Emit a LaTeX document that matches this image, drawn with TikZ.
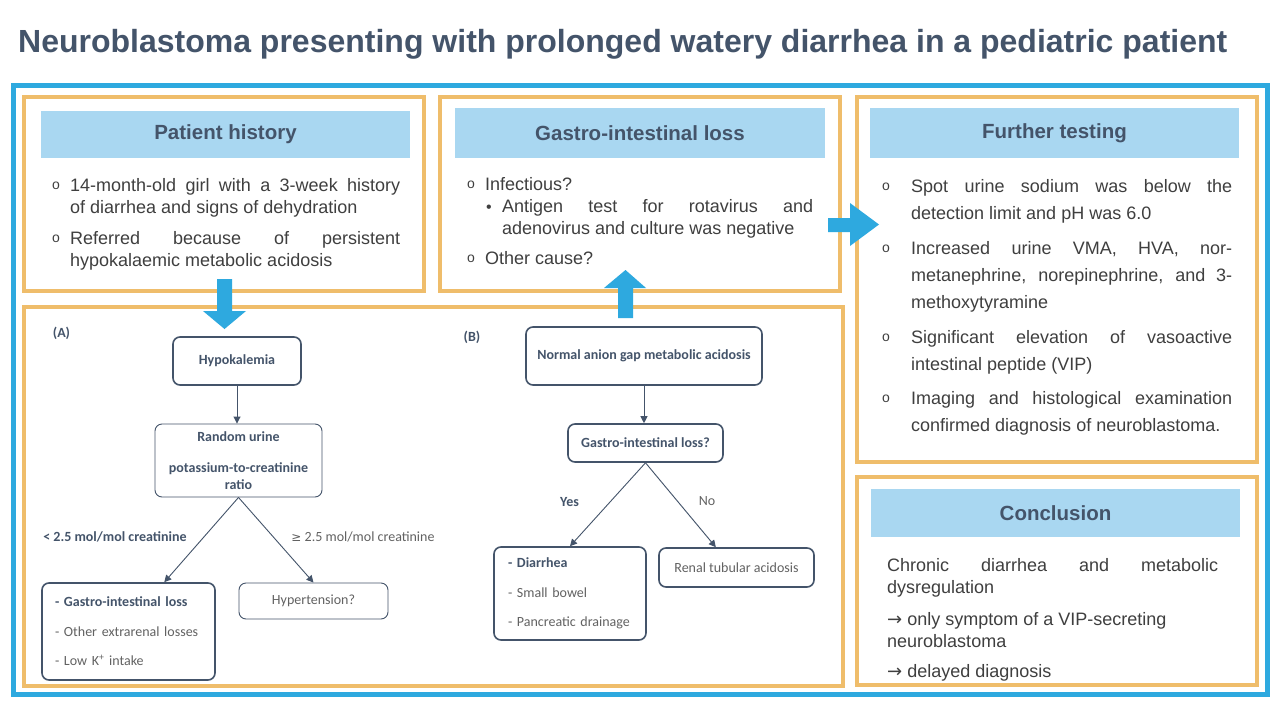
\documentclass[tikz,border=0pt]{standalone}
\usepackage{fontspec}
\setmainfont{Liberation Sans}
\newfontfamily\calfont{Carlito}
\newfontfamily\dvfont{DejaVu Sans}
\usetikzlibrary{arrows.meta,calc}
\definecolor{frameblue}{HTML}{2EA9DF}
\definecolor{gold}{HTML}{EFBD6B}
\definecolor{hdrblue}{HTML}{A9D7F1}
\definecolor{slate}{HTML}{44546A}
\definecolor{bodygray}{HTML}{3F3F3F}
\definecolor{lightgray}{HTML}{626262}
\begin{document}
\begin{tikzpicture}[x=1pt,y=-1pt,
  panel/.style={draw=gold,line width=4pt},
  header/.style={fill=hdrblue,text=slate,inner sep=0pt,font=\fontsize{20.5}{24}\selectfont\bfseries},
  para/.style={anchor=base west,inner sep=0pt,align=justify,text=bodygray,font=\fontsize{18}{22}\selectfont},
  bul/.style={anchor=base west,inner sep=0pt,text=bodygray,font=\fontsize{14}{14}\selectfont},
  fbox/.style={draw=slate,rounded corners=7pt,line width=1.6pt,text=slate,inner sep=0pt,
     font=\calfont\fontsize{14}{16}\selectfont\bfseries},
  fthin/.style={fbox,line width=0.9pt},
  flbl/.style={inner sep=0pt,text=slate,font=\calfont\fontsize{14}{16}\selectfont\bfseries},
  flight/.style={inner sep=0pt,text=lightgray,font=\calfont\fontsize{14}{16}\selectfont},
  conn/.style={draw=slate,line width=0.9pt,-{Triangle[length=7pt,width=7pt]}},
  bigarrow/.style={fill=frameblue}]
\useasboundingbox (0,0) rectangle (1280,720);
\fill[white] (0,0) rectangle (1280,720);

% title
\node[anchor=base west,inner sep=0pt,text=slate,font=\fontsize{32}{32}\selectfont\bfseries] (title) at (18,52)
  {Neuroblastoma presenting with prolonged watery diarrhea in a pediatric patient};

% outer frame
\draw[frameblue,line width=5pt] (13,85) rectangle (1267,694);

% panels
\draw[panel] (24,97) rectangle (424,291);
\draw[panel] (440,97) rectangle (840,291);
\draw[panel] (857,97) rectangle (1257,462);
\draw[panel] (857,477) rectangle (1257,685);
\draw[panel] (24,307) rectangle (843,686);

% headers
\node[header,minimum width=369,minimum height=47] (hph) at (225.5,134.5) {Patient history};
\node[header,minimum width=370,minimum height=50] (hgi) at (640,133) {Gastro-intestinal loss};
\node[header,minimum width=369,minimum height=50] (hft) at (1054.5,133) {Further testing};
\node[header,minimum width=369,minimum height=48] (hco) at (1055.5,513) {Conclusion};

% patient history text
\node[bul] (phb1) at (52,189) {o};
\node[para,text width=330] (ph1) at (70,191) {14-month-old girl with a 3-week history\linebreak of diarrhea and signs of dehydration};
\node[bul] (phb2) at (52,242) {o};
\node[para,text width=330] (ph2) at (70,244) {Referred because of persistent\linebreak hypokalaemic metabolic acidosis};

% GI text
\node[bul] (gib1) at (467,188) {o};
\node[para] (gi1) at (485,190) {Infectious?};
\node[bul,font=\fontsize{16}{16}\selectfont] (gib2) at (486,212) {•};
\node[para,text width=311] (gi2) at (502,212) {Antigen test for rotavirus and\linebreak adenovirus and culture was negative};
\node[bul] (gib3) at (467,262) {o};
\node[para] (gi3) at (485,264) {Other cause?};

% further testing text
\begin{scope}[para/.append style={font=\fontsize{18}{27}\selectfont}]
\node[bul] (ftb1) at (882,190) {o};
\node[para,text width=321] (ft1) at (911,192) {Spot urine sodium was below the\linebreak detection limit and pH was 6.0};
\node[bul] (ftb2) at (882,252) {o};
\node[para,text width=321] (ft2) at (911,254) {Increased urine VMA, HVA, nor-\linebreak metanephrine, norepinephrine, and 3-\linebreak methoxytyramine};
\node[bul] (ftb3) at (882,341) {o};
\node[para,text width=321] (ft3) at (911,343) {Significant elevation of vasoactive\linebreak intestinal peptide (VIP)};
\node[bul] (ftb4) at (882,402) {o};
\node[para,text width=321] (ft4) at (911,404) {Imaging and histological examination\linebreak confirmed diagnosis of neuroblastoma.};
\end{scope}

% conclusion text
\node[para,text width=331] (co1) at (887,571) {Chronic diarrhea and metabolic\linebreak dysregulation};
\node[para,text width=331] (co2) at (887,625) {{\dvfont\fontsize{18}{18}\selectfont →} only symptom of a VIP-secreting\\neuroblastoma};
\node[para,text width=331] (co3) at (887,677) {{\dvfont\fontsize{18}{18}\selectfont →} delayed diagnosis};

% big blue arrows
\fill[bigarrow] (217,279) -- (232,279) -- (232,311) -- (246,311) -- (224.5,329) -- (203,311) -- (217,311) -- cycle;
\fill[bigarrow] (618,318) -- (633,318) -- (633,288) -- (646,288) -- (625.5,270) -- (604,288) -- (618,288) -- cycle;
\fill[bigarrow] (828,218) -- (850,218) -- (850,203) -- (879,224.5) -- (850,246) -- (850,232) -- (828,232) -- cycle;

% flowchart A
\node[flbl,font=\calfont\fontsize{14}{16}\selectfont\bfseries] (la) at (61.5,333) {(A)};
\node[fbox,minimum width=128,minimum height=48] (hypo) at (237,361) {Hypokalemia};
\node[fthin,minimum width=167,minimum height=73,align=center,
  font=\calfont\fontsize{14}{17}\selectfont\bfseries] (rand) at (238.5,460.5)
  {Random urine\\[14pt]potassium-to-creatinine\\ratio};
\node[fbox,minimum height=97,text width=147,inner xsep=13pt,align=left,
  font=\calfont\fontsize{14}{29.5}\selectfont] (gia) at (128.5,631.5)
  {{\bfseries - Gastro-intestinal loss}\\\textcolor{lightgray}{- Other extrarenal losses}\\\textcolor{lightgray}{- Low K\textsuperscript{+} intake}};
\node[fthin,minimum width=149,minimum height=36,text=lightgray,font=\calfont\fontsize{14}{16}\selectfont] (hyper) at (313.5,601) {Hypertension?};
\node[flbl] (lt) at (115,537) {< 2.5 mol/mol creatinine};
\node[flight] (ge) at (363,537) {{\dvfont\fontsize{12}{14}\selectfont ≥} 2.5 mol/mol creatinine};
\draw[conn] (hypo.south) -- (hypo.south |- rand.north);
\draw[conn] (rand.south) -- ($(gia.north west)!0.705!(gia.north east)$);
\draw[conn] (rand.south) -- (hyper.north);

% flowchart B
\node[flbl,font=\calfont\fontsize{14}{16}\selectfont\bfseries] (lb) at (472,337) {(B)};
\node[fbox,minimum width=236,minimum height=58] (norm) at (644,356) {Normal anion gap metabolic acidosis};
\node[fbox,minimum width=155,minimum height=38] (giq) at (645.5,443) {Gastro-intestinal loss?};
\node[fbox,minimum height=93,text width=124,inner xsep=14pt,align=left,
  font=\calfont\fontsize{14}{29.5}\selectfont] (dia) at (570,593.5)
  {{\bfseries - Diarrhea}\\\textcolor{lightgray}{- Small bowel}\\\textcolor{lightgray}{- Pancreatic drainage}};
\node[fbox,minimum width=155,minimum height=39,text=lightgray,font=\calfont\fontsize{14}{16}\selectfont] (rta) at (736.5,567.5) {Renal tubular acidosis};
\node[flbl] (yes) at (569.5,502) {Yes};
\node[flight] (no) at (707,501) {No};
\draw[conn] (norm.south) -- (norm.south |- giq.north);
\draw[conn] (giq.south) -- (dia.north);
\draw[conn] (giq.south) -- ($(rta.north west)!0.368!(rta.north east)$);
\end{tikzpicture}
\end{document}
